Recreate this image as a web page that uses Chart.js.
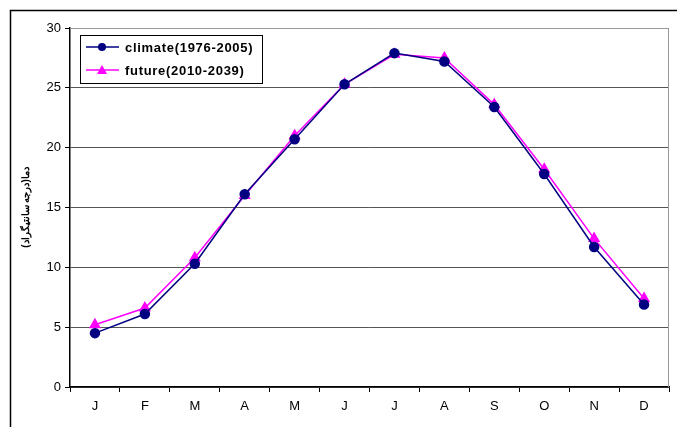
<!DOCTYPE html>
<html>
<head>
<meta charset="utf-8">
<script src="https://cdn.jsdelivr.net/npm/chart.js@4.4.1/dist/chart.umd.min.js"></script>
<style>
    html, body { margin: 0; padding: 0; background: #fff; }
    #wrap { width: 677px; height: 427px; }
</style>
</head>
<body>
<div id="wrap"><canvas id="tempChart" width="677" height="427"></canvas></div>
<script>
// ---- data ----
const months = ['J', 'F', 'M', 'A', 'M', 'J', 'J', 'A', 'S', 'O', 'N', 'D'];
const climateTemps = [4.5, 6.1, 10.3, 16.1, 20.7, 25.3, 27.9, 27.2, 23.4, 17.8, 11.7, 6.9];
const futureTemps = [5.2, 6.6, 10.8, 16.0, 21.0, 25.3, 27.8, 27.5, 23.6, 18.2, 12.4, 7.4];
const climateLabel = 'climate(1976-2005)';
const futureLabel = 'future(2010-2039)';
const yTitle = 'دما(درجه سانتیگراد)';

Chart.defaults.font.family = '"Liberation Sans", Arial, sans-serif';
Chart.defaults.color = '#000';

// outer frame + grey top/right border of plot area + legend box
const framePlugin = {
    id: 'frame',
    beforeDraw(chart) {
        const ctx = chart.ctx;
        ctx.save();
        ctx.fillStyle = '#fff';
        ctx.fillRect(0, 0, chart.width, chart.height);
        ctx.strokeStyle = '#000';
        ctx.lineWidth = 1.5;
        ctx.strokeRect(10.5, 10.5, chart.width + 20, chart.height + 20);
        ctx.restore();
    },
    afterDatasetsDraw(chart) {
        const ctx = chart.ctx;
        const a = chart.chartArea;
        ctx.save();
        ctx.strokeStyle = '#999';
        ctx.lineWidth = 1;
        ctx.beginPath();
        ctx.moveTo(a.left, a.top + 0.5);
        ctx.lineTo(a.right - 0.5, a.top + 0.5);
        ctx.lineTo(a.right - 0.5, a.bottom);
        ctx.stroke();

        // legend
        const bx = 80.5, by = 35.5, bw = 182, bh = 48;
        ctx.fillStyle = '#fff';
        ctx.fillRect(bx, by, bw, bh);
        ctx.strokeStyle = '#000';
        ctx.lineWidth = 1;
        ctx.strokeRect(bx, by, bw, bh);
        const rows = [47, 70];
        chart.data.datasets.forEach((ds, i) => {
            const y = rows[i];
            ctx.strokeStyle = ds.borderColor;
            ctx.lineWidth = 1.5;
            ctx.beginPath();
            ctx.moveTo(86, y);
            ctx.lineTo(119, y);
            ctx.stroke();
            ctx.fillStyle = ds.pointBackgroundColor;
            ctx.beginPath();
            if (ds.pointStyle === 'triangle') {
                ctx.moveTo(102, y - 5);
                ctx.lineTo(107, y + 4);
                ctx.lineTo(97, y + 4);
                ctx.closePath();
            } else {
                ctx.arc(102, y, 4, 0, Math.PI * 2);
            }
            ctx.fill();
            ctx.fillStyle = '#000';
            ctx.font = 'bold 13px "Liberation Sans", Arial, sans-serif';
            ctx.letterSpacing = '0.7px';
            ctx.textBaseline = 'middle';
            ctx.textAlign = 'left';
            ctx.fillText(ds.label, 125, y + 1);
        });
        ctx.restore();
    }
};

new Chart(document.getElementById('tempChart'), {
    type: 'line',
    data: {
        labels: months,
        datasets: [
            {
                label: climateLabel,
                data: climateTemps,
                borderColor: '#000080',
                backgroundColor: '#000080',
                pointBackgroundColor: '#000080',
                pointBorderColor: '#000080',
                pointStyle: 'circle',
                pointRadius: 4.5,
                borderWidth: 1.5,
                tension: 0
            },
            {
                label: futureLabel,
                data: futureTemps,
                borderColor: '#FF00FF',
                backgroundColor: '#FF00FF',
                pointBackgroundColor: '#FF00FF',
                pointBorderColor: '#FF00FF',
                pointStyle: 'triangle',
                pointRadius: 5.5,
                borderWidth: 1.5,
                tension: 0
            }
        ]
    },
    options: {
        responsive: false,
        animation: false,
        layout: {
            padding: { left: 20, right: 8, top: 28, bottom: 0 }
        },
        plugins: {
            legend: { display: false },
            tooltip: { enabled: false }
        },
        scales: {
            x: {
                offset: true,
                grid: {
                    offset: true,
                    drawOnChartArea: false,
                    drawTicks: true,
                    tickLength: 5,
                    tickColor: '#000'
                },
                border: { color: '#000', width: 1.5 },
                ticks: {
                    padding: 7,
                    font: { size: 13 },
                    color: '#000'
                },
                afterFit(scale) { scale.height = 40; }
            },
            y: {
                min: 0,
                max: 30,
                ticks: {
                    stepSize: 5,
                    padding: 4,
                    font: { size: 13 },
                    color: '#000'
                },
                grid: {
                    color: '#555',
                    lineWidth: 1,
                    drawTicks: true,
                    tickLength: 5,
                    tickColor: '#000'
                },
                border: { color: '#000', width: 1.5 },
                title: {
                    display: true,
                    text: yTitle,
                    font: { size: 10, weight: 'bold' },
                    color: '#000',
                    padding: { top: 0, bottom: 4 }
                },
                afterFit(scale) { scale.width = 50; }
            }
        }
    },
    plugins: [framePlugin]
});
</script>
</body>
</html>
